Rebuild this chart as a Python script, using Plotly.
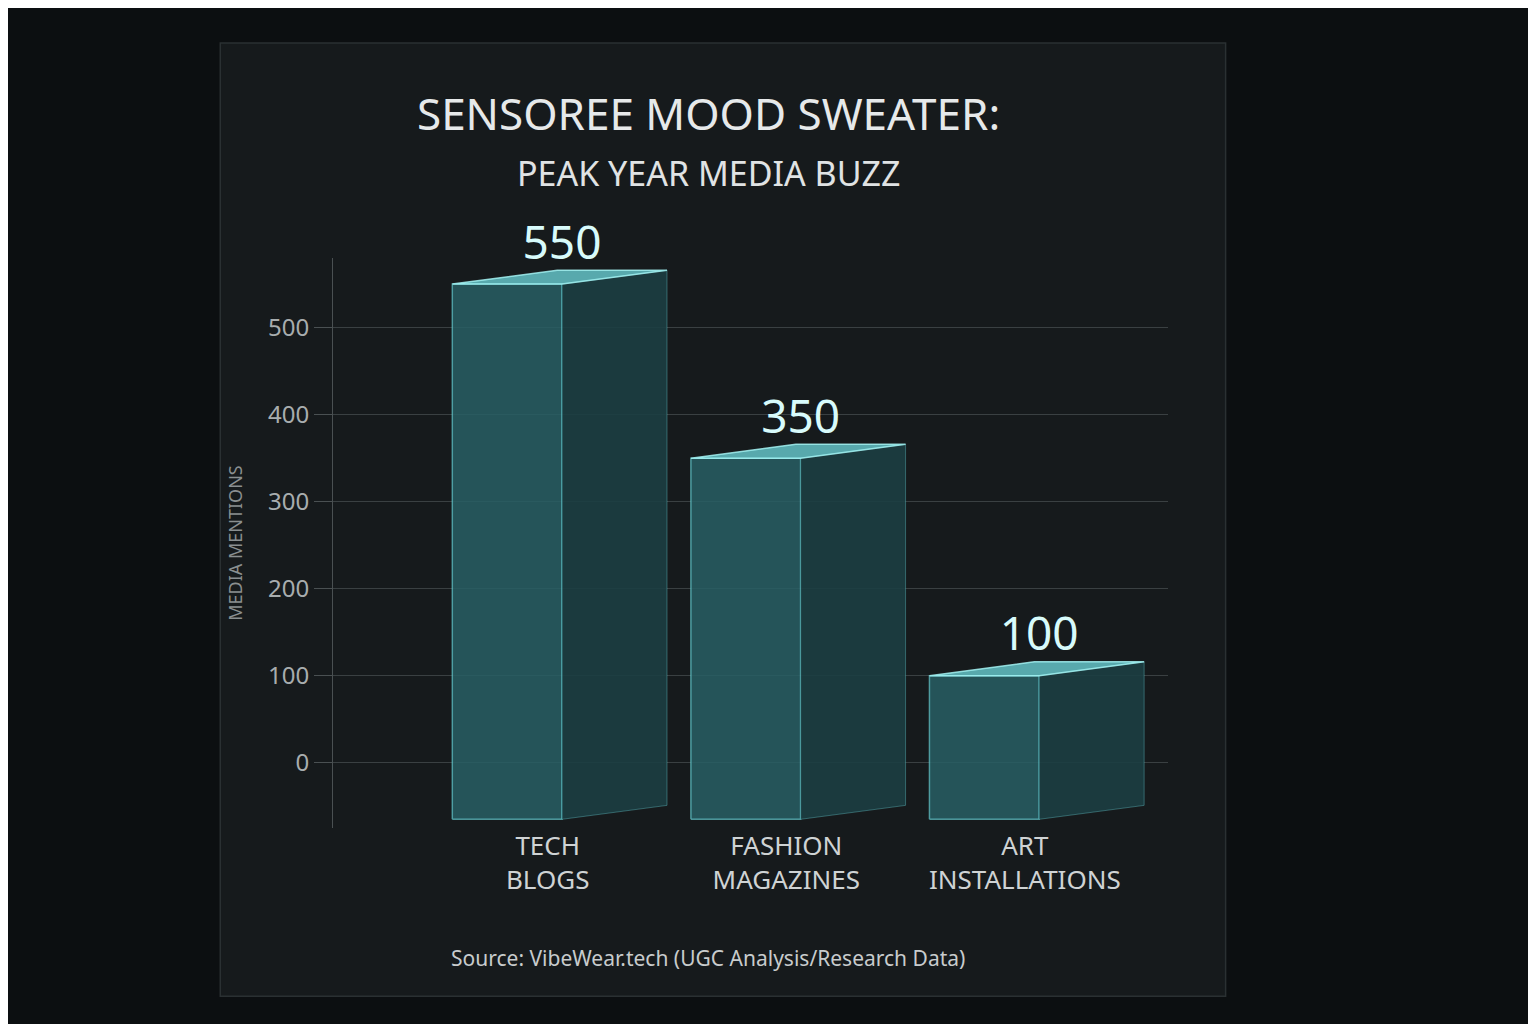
import plotly.graph_objects as go

categories = ["TECH<br>BLOGS", "FASHION<br>MAGAZINES", "ART<br>INSTALLATIONS"]
mentions = [550, 350, 100]
tick_vals = [0, 100, 200, 300, 400, 500]

base = -65
front_w = 0.46
side_dx = 0.44
top_dy = 16

fig = go.Figure()

for i, v in enumerate(mentions):
    x0 = i - 0.45
    x1 = x0 + front_w
    # front face
    fig.add_trace(go.Scatter(
        x=[x0, x0, x1, x1, x0], y=[base, v, v, base, base],
        fill="toself", fillcolor="rgba(40,95,100,0.85)", mode="lines",
        line=dict(color="rgba(110,220,225,0.6)", width=1.5), hoverinfo="skip", showlegend=False))
    # side face
    fig.add_trace(go.Scatter(
        x=[x1, x1 + side_dx, x1 + side_dx, x1, x1], y=[v, v + top_dy, base + top_dy, base, v],
        fill="toself", fillcolor="rgba(28,62,66,0.9)", mode="lines",
        line=dict(color="rgba(110,220,225,0.35)", width=1), hoverinfo="skip", showlegend=False))
    # top face
    fig.add_trace(go.Scatter(
        x=[x0, x0 + side_dx, x1 + side_dx, x1, x0], y=[v, v + top_dy, v + top_dy, v, v],
        fill="toself", fillcolor="rgba(95,185,190,0.9)", mode="lines",
        line=dict(color="rgba(170,250,250,0.8)", width=1.5), hoverinfo="skip", showlegend=False))

fig.add_trace(go.Scatter(
    x=[i - 0.45 + front_w for i in range(len(mentions))],
    y=[v + top_dy for v in mentions],
    mode="text", text=[str(v) for v in mentions], textposition="top center",
    textfont=dict(size=46, color="#d8fbfb", family="Noto Sans"), cliponaxis=False,
    hoverinfo="skip", showlegend=False))

# card background
fig.add_shape(type="rect", xref="paper", yref="paper", x0=-0.135, x1=1.069, y0=-0.295, y1=1.377,
              fillcolor="#161a1c", line=dict(color="#2a3032", width=1.5), layer="below")

fig.add_annotation(text="SENSOREE MOOD SWEATER:", xref="paper", yref="paper", x=0.45, y=1.254,
                   xanchor="center", yanchor="middle", showarrow=False,
                   font=dict(size=44, color="#e6e9ea", family="Noto Sans"))
fig.add_annotation(text="PEAK YEAR MEDIA BUZZ", xref="paper", yref="paper", x=0.45, y=1.149,
                   xanchor="center", yanchor="middle", showarrow=False,
                   font=dict(size=34, color="#e0e3e4", family="Noto Sans"))
fig.add_annotation(text="Source: VibeWear.tech (UGC Analysis/Research Data)", xref="paper", yref="paper",
                   x=0.449, y=-0.228, xanchor="center", yanchor="middle", showarrow=False,
                   font=dict(size=21, color="#c8cccd", family="Noto Sans"))

fig.update_layout(
    width=1536, height=1024,
    margin=dict(l=325, r=376, t=250, b=204),
    paper_bgcolor="#0c0f11", plot_bgcolor="rgba(0,0,0,0)",
    xaxis=dict(range=[-0.95, 2.55], tickvals=[i - 0.05 for i in range(3)], ticktext=categories,
               showgrid=False, zeroline=False, showline=False,
               tickfont=dict(size=26, color="#cfd3d4", family="Noto Sans")),
    yaxis=dict(range=[-75, 580], tickvals=tick_vals, showgrid=True, gridcolor="#3a4042",
               zeroline=False, showline=True, linecolor="#4a5052", ticks="outside",
               ticklen=18, tickcolor="#4a5052",
               tickfont=dict(size=24, color="#a8adae", family="Noto Sans"),
               title=dict(text="MEDIA MENTIONS", standoff=20,
                          font=dict(size=18, color="#8a8f90", family="Noto Sans"))),
)

fig.write_html("out.html")
